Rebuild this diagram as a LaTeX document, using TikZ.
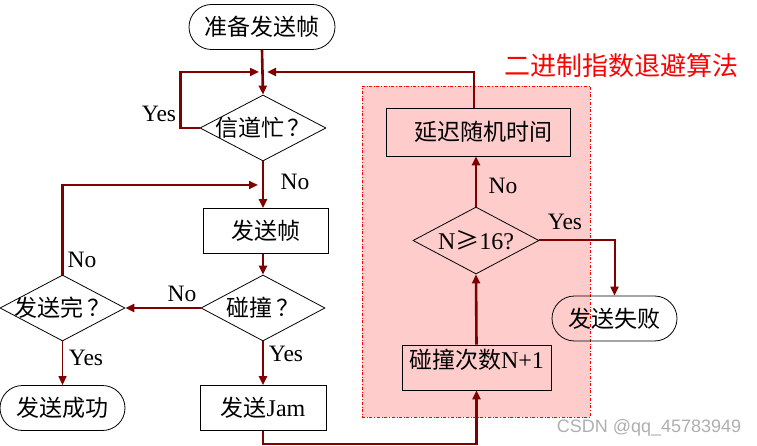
\documentclass[tikz,border=0pt]{standalone}
\usepackage{fontspec}
\setmainfont{Liberation Serif}
\setsansfont{Liberation Sans}
\newfontfamily\cjk{Noto Sans CJK SC}
\usetikzlibrary{shapes.geometric,shapes.misc,arrows.meta}
\definecolor{arr}{RGB}{128,0,0}
\definecolor{pinkbg}{RGB}{255,204,204}
\definecolor{wm}{RGB}{175,175,175}
\begin{document}
\begin{tikzpicture}[x=1pt,y=-1pt,
  txt/.style={font=\fontsize{23pt}{26pt}\selectfont, inner sep=0pt},
  flow/.style={draw=arr, line width=2.6pt, -{Triangle[length=9pt,width=8pt]}},
  thinflow/.style={draw=arr, line width=1.3pt, -{Triangle[length=9pt,width=8pt]}},
  stepbox/.style={draw, line width=0.8pt, rectangle, inner sep=0pt, minimum height=45pt, txt},
  term/.style={draw, line width=0.8pt, rounded rectangle, inner sep=0pt, minimum height=45pt, txt},
  decide/.style={draw, line width=0.8pt, diamond, inner sep=0pt, txt},
  lab/.style={font=\fontsize{23.5pt}{26pt}\selectfont, inner sep=0pt}
]
\useasboundingbox (0,0) rectangle (757,446);
% region
\node[draw=red, fill=pinkbg, dash dot, line width=0.6pt, minimum width=228pt, minimum height=331pt, inner sep=0pt] (region) at (476,251.5) {};
\node[font=\fontsize{26pt}{28pt}\selectfont\cjk, text=red, inner sep=0pt] (title) at (621,66) {二进制指数退避算法};
% nodes
\node[term, minimum width=146pt] (start) at (262,27) {\cjk 准备发送帧};
\node[decide, minimum width=126pt, minimum height=66pt] (busy) at (263,128) {\makebox[0pt]{\cjk 信道忙\,？}};
\node[stepbox, minimum width=125pt] (sendf) at (266,231) {\cjk 发送帧};
\node[decide, minimum width=124pt, minimum height=66pt] (coll) at (263,308) {\makebox[0pt]{\cjk 碰撞\,？}};
\node[decide, minimum width=125pt, minimum height=66pt] (done) at (62.5,308) {\makebox[0pt]{\cjk 发送完\,？}};
\node[term, minimum width=125pt] (succ) at (62.5,408) {\cjk 发送成功};
\node[stepbox, minimum width=126pt] (jam) at (263,408) {{\cjk 发送}\fontsize{24pt}{26pt}\selectfont Jam};
\node[stepbox, minimum width=149pt] (cnt) at (476.5,367.5) {\raisebox{18pt}{{\cjk 碰撞次数}\fontsize{24pt}{26pt}\selectfont N+1}};
\node[decide, minimum width=126pt, minimum height=67pt] (n16) at (476,240.5) {\makebox[0pt]{\fontsize{24pt}{26pt}\selectfont N{\cjk ≥}16?}};
\node[term, minimum width=125pt] (fail) at (614.5,318.5) {\cjk 发送失败};
\node[stepbox, minimum width=184pt, minimum height=48pt] (delay) at (478,132) {\hspace*{10pt}\cjk 延迟随机时间};
% merge points
\coordinate (m1) at (263,72);
\coordinate (m2) at (263,185);
% connectors
\draw[flow] (start.south) -- (busy.north);
\draw[flow] (busy.west) -- ++(-19,0) |- ([xshift=-4pt]m1);
\draw[flow] ([xshift=-4pt]delay.north) |- ([xshift=4pt]m1);
\draw[flow] (busy.south) -- (busy.south |- sendf.north);
\draw[flow] (done.north) |- ([xshift=-5pt]m2);
\draw[flow] (busy.south |- sendf.south) -- (coll.north);
\draw[flow] (coll.west) -- (done.east);
\draw[thinflow] (done.south) -- (succ.north);
\draw[flow] (coll.south) -- (jam.north);
\draw[flow] (jam.south) -- ++(0,13) -| (cnt.south);
\draw[flow] (cnt.north) -- (n16.south);
\draw[flow] (n16.north) -- (n16.north |- delay.south);
\draw[flow, line width=2pt] (n16.east) -| (fail.north);
% labels
\node[lab] (l1) at (159,114) {Yes};
\node[lab] (l2) at (295,182) {No};
\node[lab] (l3) at (182,294) {No};
\node[lab] (l4) at (82,260) {No};
\node[lab] (l5) at (86,358) {Yes};
\node[lab] (l6) at (286,354) {Yes};
\node[lab] (l7) at (503,186) {No};
\node[lab] (l8) at (565,222) {Yes};
\node[font=\fontsize{18pt}{20pt}\selectfont\sffamily, text=wm, inner sep=0pt] (wmark) at (649,428) {CSDN @qq\_45783949};
\end{tikzpicture}
\end{document}
